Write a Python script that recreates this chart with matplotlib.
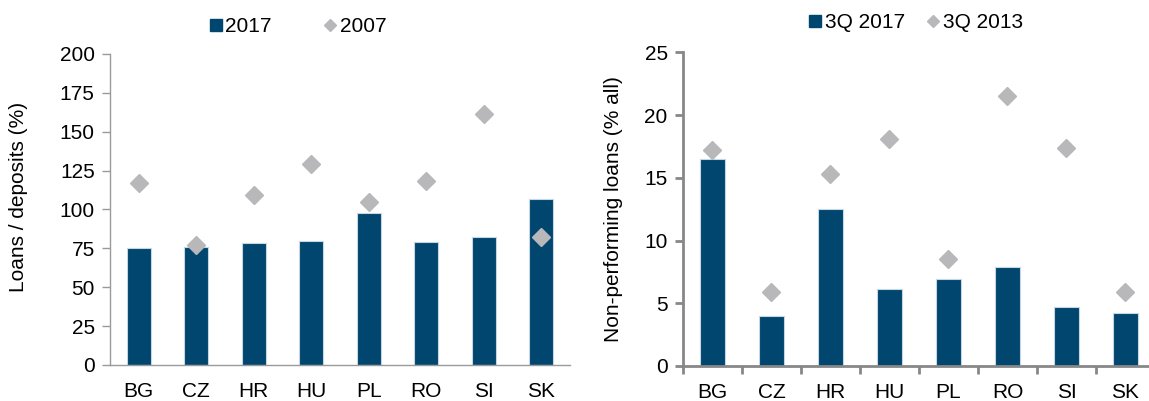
import matplotlib.pyplot as plt
from matplotlib.lines import Line2D
import numpy as np

plt.rcParams['font.family'] = ['Liberation Sans', 'DejaVu Sans']

countries = ["BG", "CZ", "HR", "HU", "PL", "RO", "SI", "SK"]

# Loans / deposits (%)
ltd_2017 = [75.3, 75.8, 78.5, 79.8, 97.9, 79, 82.4, 107]
ltd_2007 = [117, 77, 109, 129.5, 105, 118.5, 161.5, 82]

# Non-performing loans (% all)
npl_3q2017 = [16.5, 4.0, 12.5, 6.1, 6.9, 7.9, 4.7, 4.2]
npl_3q2013 = [17.2, 5.9, 15.3, 18.1, 8.5, 21.5, 17.4, 5.9]

BAR = "#00466e"
DIAM = "#b8b8bb"
FS = 15

fig = plt.figure(figsize=(11.49, 4.01), dpi=100)
ax1 = fig.add_axes([0.0957, 0.0898, 0.4003, 0.7756])
ax2 = fig.add_axes([0.5944, 0.0873, 0.4108, 0.7823])

x = np.arange(len(countries))


def style(ax, ymax, step, spine_color, spine_w, xticks):
    ax.set_xlim(-0.5, len(countries) - 0.5)
    ax.set_ylim(0, ymax)
    ax.set_yticks(np.arange(0, ymax + step / 2, step))
    ax.set_xticks(x)
    ax.set_xticklabels(countries)
    for s in ["top", "right"]:
        ax.spines[s].set_visible(False)
    for s in ["left", "bottom"]:
        ax.spines[s].set_color(spine_color)
        ax.spines[s].set_linewidth(spine_w)
    ax.tick_params(axis="y", labelsize=FS, color=spine_color, width=spine_w, length=6, pad=5)
    ax.tick_params(axis="x", which="major", labelsize=FS, length=0, pad=12)
    if xticks:
        ax.set_xticks(np.arange(-0.5, len(countries), 1), minor=True)
        ax.tick_params(axis="x", which="minor", color=spine_color, width=spine_w, length=6)


def legend(labels, anchor, colspace):
    handles = [
        Line2D([], [], marker="s", color=BAR, linestyle="none", markersize=8),
        Line2D([], [], marker="D", color=DIAM, linestyle="none", markersize=6.5),
    ]
    fig.legend(handles, labels, loc="center", bbox_to_anchor=anchor, ncol=2,
               frameon=False, fontsize=FS, handlelength=0.6, handletextpad=0.16,
               columnspacing=colspace, borderpad=0)


# Left chart
ax1.bar(x, ltd_2017, width=0.42, color=BAR, edgecolor="#c6d6e2", linewidth=0.8, zorder=2)
ax1.plot(x, ltd_2007, "D", color=DIAM, markersize=9, zorder=3)
style(ax1, 200, 25, "#9a9a9a", 1.0, xticks=False)
ax1.set_ylabel("Loans / deposits (%)", fontsize=FS)
ax1.yaxis.set_label_coords(-0.178, 0.54)
legend(["2017", "2007"], (298 / 1149, 1 - 27 / 401), 2.5)

# Right chart
ax2.bar(x, npl_3q2017, width=0.41, color=BAR, edgecolor="#c6d6e2", linewidth=0.8, zorder=2)
ax2.plot(x, npl_3q2013, "D", color=DIAM, markersize=9, zorder=3)
style(ax2, 25, 5, "#878787", 2.0, xticks=True)
ax2.set_ylabel("Non-performing loans (% all)", fontsize=FS)
ax2.yaxis.set_label_coords(-0.127, 0.5)
legend(["3Q 2017", "3Q 2013"], (916 / 1149, 1 - 23 / 401), 1.05)

fig.savefig("out.png", dpi=100)
